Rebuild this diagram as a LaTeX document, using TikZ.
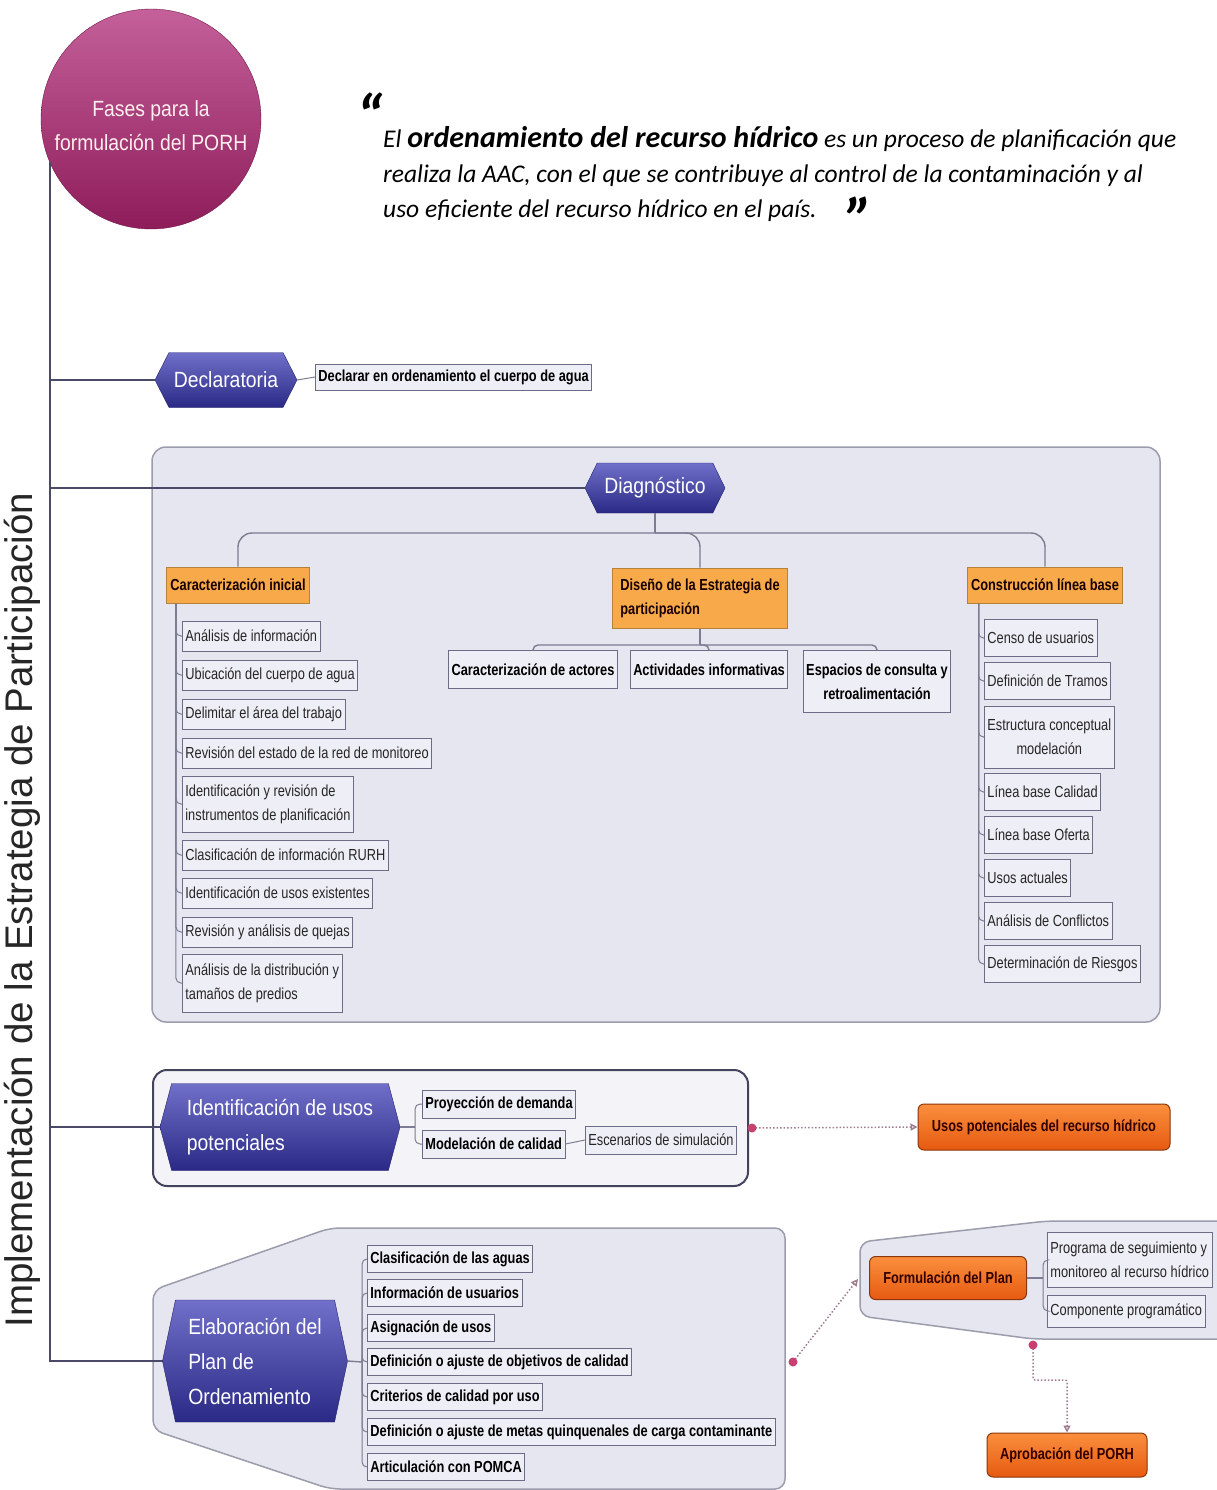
\documentclass[tikz,border=0pt]{standalone}
\usepackage{fontspec}
\setmainfont{Liberation Sans}
\newfontfamily\narrowfont{Liberation Sans}[FakeStretch=0.8]
\newfontfamily\semifont{Liberation Sans}[FakeStretch=0.88]
\newfontfamily\citafont{Carlito}
\usetikzlibrary{shapes.symbols}
\usetikzlibrary{arrows.meta}

\definecolor{fasesTop}{HTML}{C4609A}
\definecolor{fasesBot}{HTML}{8E1D5A}
\definecolor{hexTop}{HTML}{7070CA}
\definecolor{hexBot}{HTML}{2A2A86}
\definecolor{panelFill}{HTML}{E6E6F0}
\definecolor{panelLine}{HTML}{9C9CAC}
\definecolor{leafFill}{HTML}{EEEEF6}
\definecolor{leafLine}{HTML}{6C6C86}
\definecolor{trunkLine}{HTML}{4A4A68}
\definecolor{treeLine}{HTML}{7C7C92}
\definecolor{ocre}{HTML}{F8A94A}
\definecolor{ocreLine}{HTML}{B5823A}
\definecolor{naranjaTop}{HTML}{FA8F3E}
\definecolor{naranjaBot}{HTML}{E65A10}
\definecolor{relLine}{HTML}{A07C8E}
\definecolor{relDot}{HTML}{C8406E}

\tikzset{
	hexa/.style={signal, signal to=west and east, draw=hexBot!80!black, top color=hexTop, bottom color=hexBot, text=white, inner sep=0pt, align=left, font=\semifont\fontsize{22}{35}\selectfont},
	leaf/.style={draw=leafLine, fill=leafFill, line width=0.8pt, anchor=west, inner xsep=3pt, inner ysep=2pt, minimum height=30pt, align=left, text=black!85, font=\narrowfont\fontsize{16}{24}\selectfont},
	leafb/.style={leaf, text=black, font=\narrowfont\bfseries\fontsize{16}{24}\selectfont},
	ocrebox/.style={draw=ocreLine, fill=ocre, line width=1pt, inner xsep=4pt, minimum height=36pt, align=left, text=black!90!red, font=\narrowfont\bfseries\fontsize{16}{24}\selectfont},
	naranja/.style={draw=naranjaBot!60!black, rounded corners=6pt, top color=naranjaTop, bottom color=naranjaBot, line width=1pt, text=black!80!red, font=\narrowfont\bfseries\fontsize{16}{20}\selectfont},
	comilla/.style={inner sep=0pt, font=\citafont\bfseries\itshape\fontsize{62}{62}\selectfont},
	trunk/.style={draw=trunkLine, line width=2pt},
	tree/.style={draw=treeLine, line width=1.4pt, rounded corners=5pt},
	panel/.style={fill=panelFill, draw=panelLine, line width=1.5pt, rounded corners=14pt},
	rel/.style={draw=relLine, line width=1.5pt, dotted, -{Triangle[open, length=7pt, width=7pt]}},
}

\begin{document}
\begin{tikzpicture}[x=1pt, y=-1pt]
	\useasboundingbox[fill=white] (0,0) rectangle (1217,1490);

	% paneles
	\draw[panel] (152,447) rectangle (1160,1022);
	\draw[panel, fill=white!55!panelFill, draw=trunkLine!90!black, line width=2pt] (153,1070) rectangle (748,1186);
	\draw[panel, rounded corners=10pt] (330,1228) -- (785,1228) -- (785,1489) -- (330,1489) -- (153,1430) -- (153,1290) -- cycle;
	\draw[panel, rounded corners=10pt] (1047,1221) -- (1240,1221) -- (1240,1339) -- (1033,1339) -- (860,1316) -- (860,1242) -- cycle;

	\node[circle, minimum size=220pt, inner sep=0pt, draw=fasesBot!80!black, top color=fasesTop, bottom color=fasesBot] (fases) at (151,119) {};
	\node[text=pink!25, align=center, font=\semifont\fontsize{22}{34}\selectfont] (fasesTxt) at (151,126) {Fases para la\\formulación del PORH};

	\node[rotate=90, font=\fontsize{38.5}{40}\selectfont, text=black!85] (lema) at (22,910) {Implementación de la Estrategia de Participación};

	\node[anchor=north west, align=left, inner sep=0pt, font=\citafont\itshape\fontsize{25.5}{35}\selectfont] (cita) at (383,126) {El {\bfseries\fontsize{30}{35}\selectfont ordenamiento del recurso hídrico} es un proceso de planificación que\\realiza la AAC, con el que se contribuye al control de la contaminación y al\\uso eficiente del recurso hídrico en el país.};
	\node[comilla, anchor=south east] (abre) at (384,113) {\raisebox{-26pt}[19pt][0pt]{“}};
	\node[comilla, anchor=south west] (cierra) at (846,216) {\raisebox{-26pt}[19pt][0pt]{”}};

	% Declaratoria
	\node[hexa, minimum width=142pt, minimum height=55pt, signal pointer angle=126] (dec) at (226,380) {Declaratoria};
	\node[leafb, minimum height=26pt] (decl) at (315,377) {Declarar en ordenamiento el cuerpo de agua};

	% Diagnostico
	\node[hexa, minimum width=140pt, minimum height=50pt, signal pointer angle=128] (diag) at (655,488) {Diagnóstico};
	\node[ocrebox] (carI) at (238,585) {Caracterización inicial};
	\node[ocrebox, minimum width=175pt, minimum height=60pt] (dis) at (700,598) {Diseño de la Estrategia de\\participación};
	\node[ocrebox] (conB) at (1045,585) {Construcción línea base};

	\node[leafb, anchor=north, minimum height=38pt] (actC) at (533,650) {Caracterización de actores};
	\node[leafb, anchor=north, minimum height=38pt] (actI) at (709,650) {Actividades informativas};
	\node[leafb, anchor=north, minimum height=62pt, align=center] (esp) at (877,650) {Espacios de consulta y\\retroalimentación};

	\node[leaf] (c1) at (182,636) {Análisis de información};
	\node[leaf] (c2) at (182,675) {Ubicación del cuerpo de agua};
	\node[leaf] (c3) at (182,714) {Delimitar el área del trabajo};
	\node[leaf] (c4) at (182,753) {Revisión del estado de la red de monitoreo};
	\node[leaf, minimum height=56pt] (c5) at (182,804) {Identificación y revisión de\\instrumentos de planificación};
	\node[leaf] (c6) at (182,855) {Clasificación de información RURH};
	\node[leaf] (c7) at (182,893) {Identificación de usos existentes};
	\node[leaf] (c8) at (182,932) {Revisión y análisis de quejas};
	\node[leaf, minimum height=58pt] (c9) at (182,983) {Análisis de la distribución y\\tamaños de predios};

	\node[leaf, minimum height=37pt] (r1) at (984,638) {Censo de usuarios};
	\node[leaf, minimum height=37pt] (r2) at (984,681) {Definición de Tramos};
	\node[leaf, minimum height=62pt, align=center] (r3) at (984,737) {Estructura conceptual\\modelación};
	\node[leaf, minimum height=37pt] (r4) at (984,792) {Línea base Calidad};
	\node[leaf, minimum height=37pt] (r5) at (984,835) {Línea base Oferta};
	\node[leaf, minimum height=37pt] (r6) at (984,878) {Usos actuales};
	\node[leaf, minimum height=37pt] (r7) at (984,921) {Análisis de Conflictos};
	\node[leaf, minimum height=37pt] (r8) at (984,964) {Determinación de Riesgos};

	% Identificacion de usos potenciales
	\node[hexa, minimum width=240pt, minimum height=87pt, signal pointer angle=150] (iden) at (280,1127) {Identificación de usos\\potenciales};
	\node[leafb, minimum height=28pt] (p1) at (422,1104) {Proyección de demanda};
	\node[leafb, minimum height=28pt] (p2) at (422,1144) {Modelación de calidad};
	\node[leaf, minimum height=28pt] (esc) at (585,1140) {Escenarios de simulación};
	\node[naranja, minimum width=252pt, minimum height=46pt] (usos) at (1044,1127) {Usos potenciales del recurso hídrico};

	% Elaboracion del plan
	\node[hexa, minimum width=185pt, minimum height=122pt, signal pointer angle=156] (elab) at (255,1361) {Elaboración del\\Plan de\\Ordenamiento};
	\node[leafb, minimum height=27pt] (e1) at (367,1259) {Clasificación de las aguas};
	\node[leafb, minimum height=27pt] (e2) at (367,1293) {Información de usuarios};
	\node[leafb, minimum height=27pt] (e3) at (367,1328) {Asignación de usos};
	\node[leafb, minimum height=27pt] (e4) at (367,1362) {Definición o ajuste de objetivos de calidad};
	\node[leafb, minimum height=27pt] (e5) at (367,1397) {Criterios de calidad por uso};
	\node[leafb, minimum height=27pt] (e6) at (367,1432) {Definición o ajuste de metas quinquenales de carga contaminante};
	\node[leafb, minimum height=27pt] (e7) at (367,1467) {Articulación con POMCA};

	\node[naranja, minimum width=157pt, minimum height=43pt] (form) at (948,1278) {Formulación del Plan};
	\node[leaf, minimum height=55pt] (f1) at (1047,1260) {Programa de seguimiento y\\monitoreo al recurso hídrico};
	\node[leaf, minimum height=32pt] (f2) at (1047,1311) {Componente programático};
	\node[naranja, minimum width=160pt, minimum height=44pt] (aprob) at (1067,1455) {Aprobación del PORH};

	% conectores
	\draw[trunk] (fases.203) |- (elab.west);
	\draw[trunk] (dec.west -| fases.203) -- (dec.west);
	\draw[trunk] (diag.west -| fases.203) -- (diag.west);
	\draw[trunk] (iden.west -| fases.203) -- (iden.west);
	\draw[tree, line width=1pt] (dec.east) -- (decl.west);

	\coordinate (dbar) at (655,533);
	\draw[tree] (diag.south) -- (dbar);
	\draw[tree, rounded corners=14pt] (carI.north) |- (dbar) -| (conB.north);
	\draw[tree, rounded corners=14pt] (dbar) -| (dis.north);

	\coordinate (sbar) at (700,645);
	\draw[tree] (dis.south) -- (sbar);
	\draw[tree] (actC.north) |- (sbar) -| (esp.north);
	\draw[tree] (sbar) -| (actI.north);

	\foreach \n in {c1,c2,c3,c4,c5,c6,c7,c8,c9}
		\draw[tree, line width=1pt] ([xshift=10pt]carI.south west) |- (\n.west);
	\foreach \n in {r1,r2,r3,r4,r5,r6,r7,r8}
		\draw[tree, line width=1pt] ([xshift=12pt]conB.south west) |- (\n.west);

	\coordinate (ij) at (415,1127);
	\draw[tree] (iden.east) -- (ij);
	\draw[tree, line width=1pt] (ij) |- (p1.west);
	\draw[tree, line width=1pt] (ij) |- (p2.west);
	\draw[tree, line width=1pt] (p2.east) -- (esc.west);

	\coordinate (ej) at (362,1362);
	\draw[tree] (elab.east) -- (ej);
	\foreach \i in {1,...,7}
		\draw[tree, line width=1pt] (ej) |- (e\i.west);

	\coordinate (fj) at (1043,1278);
	\draw[tree] (form.east) -- (fj);
	\draw[tree, line width=1pt] (fj) |- (f1.west);
	\draw[tree, line width=1pt] (fj) |- (f2.west);

	% relaciones
	\coordinate (idR) at (752,1128);
	\coordinate (elR) at (793,1362);
	\coordinate (foL) at (858,1279);
	\coordinate (foB) at (1033,1345);
	\draw[rel] (idR) -- (usos.west);
	\draw[rel] (elR) -- (foL);
	\draw[rel, rounded corners=2pt] (foB) -- ++(0,35) -| (aprob.north);
	\foreach \p in {idR,elR,foB}
		\fill[relDot] (\p) circle (4.5pt);
\end{tikzpicture}
\end{document}
